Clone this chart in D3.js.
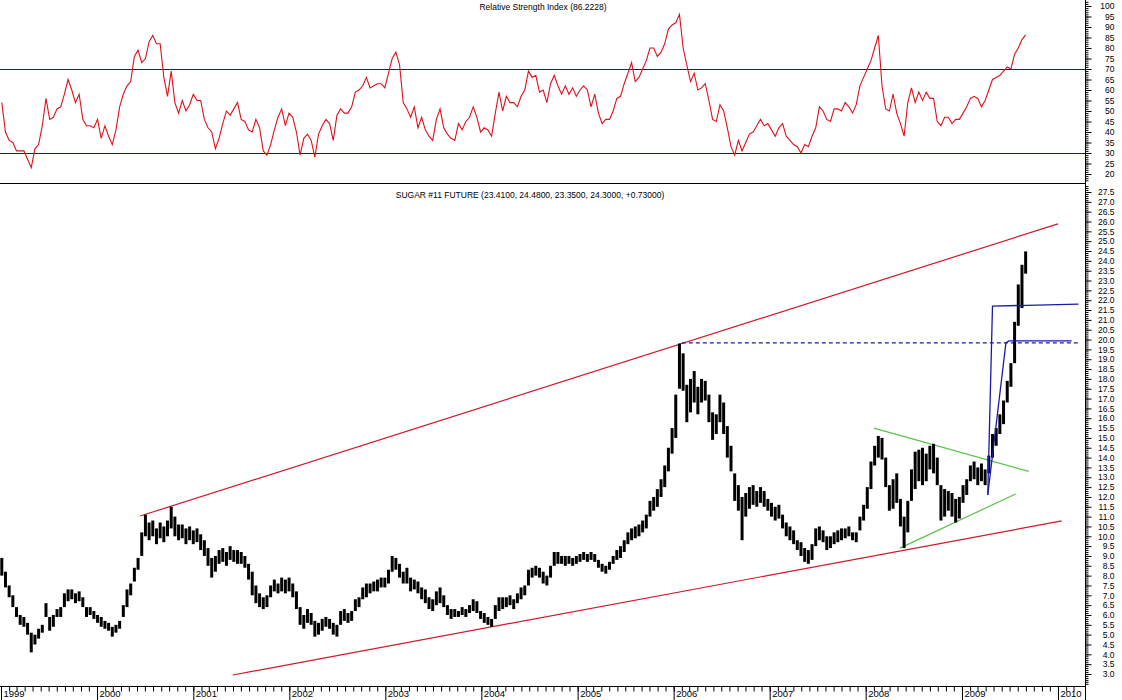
<!DOCTYPE html>
<html>
<head>
<meta charset="utf-8">
<script src="https://cdn.jsdelivr.net/npm/d3@7"></script>
<style>
  body { margin: 0; background: #fff; }
  svg text { font-family: "Liberation Sans", Arial, sans-serif; }
</style>
</head>
<body>
<div id="chart"></div>
<script>
//// DATA ////

// one bar every 14 days starting here
var startDate = "1999-01-04";
var stepDays = 14;

var priceLow = [8.0,7.4,6.9,6.4,5.9,5.5,5.4,5.0,4.1,4.5,4.8,5.1,5.9,5.2,5.4,5.9,5.9,6.4,6.7,6.8,6.6,6.7,6.4,5.9,6.0,5.8,
  5.6,5.4,5.3,5.2,4.9,5.1,5.3,5.9,6.4,7.0,7.7,8.3,9.0,10.0,9.8,10.0,9.6,9.9,9.7,10.0,10.4,10.0,9.8,9.9,9.6,9.8,
  9.6,9.7,9.3,9.0,8.5,7.9,8.2,8.6,8.7,8.5,8.8,8.7,8.6,8.6,8.4,7.8,7.0,6.6,6.4,6.3,6.4,6.9,7.2,7.1,7.2,7.1,
  7.2,6.9,6.3,5.5,5.3,5.6,5.5,4.9,5.0,5.2,5.4,5.3,5.0,4.9,5.5,5.7,5.6,5.7,6.2,6.4,6.8,6.9,7.1,7.2,7.2,7.4,
  7.4,7.6,8.2,8.3,7.9,7.6,7.6,7.2,7.3,7.1,6.8,6.6,6.3,6.2,6.5,6.6,6.4,6.0,5.8,5.9,5.9,6.0,5.9,6.1,6.2,6.1,
  5.8,5.6,5.5,5.4,5.8,6.2,6.3,6.4,6.5,6.3,6.6,6.8,7.0,7.5,7.9,8.0,7.9,7.6,7.5,7.9,8.5,8.6,8.6,8.5,8.6,8.5,
  8.6,8.7,8.8,8.7,8.8,8.7,8.4,8.2,8.1,8.3,8.6,8.8,8.9,9.2,9.6,9.8,9.9,10.0,10.2,10.4,11.0,11.3,11.5,12.0,12.5,13.3,
  14.2,15.0,17.5,17.4,15.8,16.3,16.8,16.2,16.8,16.9,15.8,14.9,15.2,15.8,15.2,14.0,13.3,11.8,11.3,9.8,11.0,11.4,11.6,11.5,11.7,11.5,
  11.3,11.0,10.8,10.9,10.4,10.0,9.8,9.6,9.3,9.0,8.7,8.6,8.8,9.5,9.8,9.7,9.3,9.4,9.6,9.7,9.8,9.9,10.0,9.8,9.7,10.3,
  10.8,11.4,12.4,13.6,14.0,13.9,12.5,11.3,11.4,11.7,10.5,9.4,10.2,11.8,12.4,12.8,12.6,12.8,13.4,13.2,12.6,10.8,11.0,11.3,11.0,10.7,
  10.9,11.7,12.1,12.8,12.9,12.6,12.8,12.6,13.2,14.0,14.6,15.2,15.7,16.8,17.6,18.8,20.7,21.6,23.35];

var priceHigh = [8.9,8.2,7.5,7.0,6.4,6.0,5.9,5.6,5.1,5.0,5.3,5.5,6.6,5.9,6.0,6.3,6.4,7.1,7.3,7.3,7.1,7.2,6.9,6.4,6.4,6.2,
  6.0,5.9,5.7,5.6,5.4,5.5,5.7,6.5,7.3,7.6,8.4,8.9,10.2,11.1,10.7,10.8,10.4,10.7,10.5,10.8,11.5,11.0,10.6,10.6,10.4,10.5,
  10.3,10.4,10.1,9.8,9.4,8.9,9.0,9.3,9.4,9.2,9.5,9.3,9.3,9.2,9.0,8.6,8.2,7.5,7.1,6.9,7.0,7.5,7.8,7.6,7.9,7.8,
  7.9,7.6,7.2,6.4,6.0,6.3,6.1,5.7,5.6,5.8,5.9,5.8,5.6,5.5,6.2,6.3,6.1,6.2,6.8,6.9,7.4,7.6,7.6,7.7,7.8,7.9,
  7.9,8.3,9.0,8.9,8.6,8.2,8.4,7.9,7.8,7.7,7.4,7.3,6.9,6.8,7.2,7.4,7.0,6.5,6.3,6.3,6.2,6.4,6.3,6.5,6.8,6.7,
  6.2,6.1,5.9,5.8,6.5,6.9,6.9,6.9,7.0,6.8,7.1,7.4,7.5,8.3,8.4,8.5,8.4,8.2,8.0,8.5,9.2,9.2,9.0,9.0,9.0,8.9,
  9.0,9.1,9.2,9.1,9.2,9.1,8.8,8.6,8.5,8.7,9.0,9.3,9.5,9.8,10.2,10.4,10.5,10.6,10.8,11.1,11.8,12.0,12.4,12.9,13.6,14.5,
  15.5,17.2,19.8,19.3,17.7,18.0,18.4,17.6,18.0,17.9,17.2,16.3,16.2,17.2,16.8,15.6,14.6,13.2,12.6,12.0,12.2,12.5,12.6,12.3,12.5,12.3,
  11.9,11.7,11.5,11.6,11.1,10.7,10.5,10.3,9.8,9.7,9.4,9.3,9.6,10.4,10.5,10.3,10.0,10.0,10.2,10.3,10.4,10.4,10.5,10.2,10.2,11.0,
  11.6,12.5,13.8,14.6,15.1,15.0,14.0,12.6,12.9,13.2,11.9,11.0,11.8,13.4,14.3,14.4,14.5,14.2,14.6,14.7,14.0,12.6,12.4,12.3,12.2,11.9,
  12.0,12.6,12.9,13.6,13.8,13.5,13.7,13.4,14.1,15.2,15.5,16.2,16.9,17.9,18.8,20.9,22.8,23.8,24.48];

var rsiValues = [54,40,36,35,31,31,31,27,23,32,34,43,56,46,47,51,52,58,65,60,54,58,46,43,43,42,
  46,37,43,38,34,41,52,58,62,64,76,79,73,75,83,86,82,82,66,57,69,54,49,55,50,53,
  58,55,55,46,42,40,32,37,44,50,48,51,54,46,45,41,40,46,42,31,29,34,41,47,51,43,
  49,47,40,29,37,39,36,28,39,43,46,44,36,48,51,49,49,52,59,60,62,66,61,62,63,63,
  61,68,75,78,72,54,51,47,52,42,47,41,38,36,46,51,42,39,37,36,44,41,45,47,52,47,
  40,42,41,38,49,59,50,57,54,54,52,57,60,69,66,67,59,60,54,63,67,62,58,62,58,61,
  57,60,62,60,52,58,49,44,46,46,50,56,57,63,68,73,64,66,70,74,80,80,76,78,82,89,
  91,92,96,80,72,64,68,60,61,63,55,46,45,53,50,42,33,29,36,31,35,39,40,43,46,43,
  44,41,38,42,44,38,36,34,33,30,34,33,38,42,52,50,46,45,51,51,50,54,52,49,53,62,
  66,70,74,80,86,62,51,50,58,49,44,38,54,61,54,59,55,59,56,56,45,43,47,47,44,46,
  46,49,52,56,57,56,52,55,60,65,66,67,69,71,70,77,80,84,86.2228];

var rsiTickLabels = [20,25,30,35,40,45,50,55,60,65,70,75,80,85,90,95,100];
var rsiBands = [70, 30];
var priceTickLabels = ["3.0","3.5","4.0","4.5","5.0","5.5","6.0","6.5","7.0","7.5","8.0","8.5","9.0","9.5","10.0",
  "10.5","11.0","11.5","12.0","12.5","13.0","13.5","14.0","14.5","15.0","15.5","16.0","16.5","17.0","17.5","18.0",
  "18.5","19.0","19.5","20.0","20.5","21.0","21.5","22.0","22.5","23.0","23.5","24.0","24.5","25.0","25.5","26.0",
  "26.5","27.0","27.5"];
var yearLabels = ["1999","2000","2001","2002","2003","2004","2005","2006","2007","2008","2009","2010"];

// drawn studies: [date, price] points
var redTrendLines = [
  [["2000-06-13", 11.03], ["2010-01-01", 25.88]],
  [["2001-05-31", 2.95], ["2010-01-15", 10.78]]
];
var greenTrendLines = [
  [["2008-02-01", 15.5], ["2009-09-12", 13.3]],
  [["2008-05-10", 9.4], ["2009-07-24", 12.15]]
];
var blueTrendLines = [
  [["2009-04-09", 12.1], ["2009-04-27", 21.7], ["2010-03-20", 21.8]],
  [["2009-04-09", 12.1], ["2009-06-17", 19.83], ["2009-06-28", 19.93], ["2010-02-22", 19.93]]
];
var blueDashedLine = [["2006-02-01", 19.83], ["2010-03-20", 19.83]];

var rsiTitle = "Relative Strength Index (86.2228)";
var priceTitle = "SUGAR #11 FUTURE (23.4100, 24.4800, 23.3500, 24.3000, +0.73000)";

//// SET UP ////

var svgWidth = 1122;
var svgHeight = 700;
var plotRight = 1085;
var axisY = 686;

var svg = d3.select("#chart")
  .append("svg")
  .attr("width", svgWidth)
  .attr("height", svgHeight);

svg.append("rect")
  .attr("width", svgWidth)
  .attr("height", svgHeight)
  .attr("fill", "#fff");

var parseDate = d3.timeParse("%Y-%m-%d");
var start = parseDate(startDate);
var dates = priceLow.map((d, i) => d3.timeDay.offset(start, i * stepDays));

var xScale = d3.scaleTime()
  .domain([parseDate("1999-01-01"), parseDate("2010-01-01")])
  .range([1, 1058]);

var rsiScale = d3.scaleLinear().domain([20, 100]).range([174, 6]);
var priceScale = d3.scaleLinear().domain([3, 27.5]).range([674, 192]);

// clip regions
var defs = svg.append("defs");
defs.append("clipPath").attr("id", "clipRsi")
  .append("rect").attr("x", 0).attr("y", 0).attr("width", plotRight).attr("height", 183);
defs.append("clipPath").attr("id", "clipPrice")
  .append("rect").attr("x", 0).attr("y", 184).attr("width", plotRight).attr("height", axisY - 184);

//// RSI PANEL ////

var rsiGroup = svg.append("g").attr("clip-path", "url(#clipRsi)");

rsiGroup.selectAll(".band")
  .data(rsiBands)
  .enter()
  .append("line")
  .attr("x1", 0)
  .attr("x2", plotRight)
  .attr("y1", d => Math.round(rsiScale(d)) + 0.5)
  .attr("y2", d => Math.round(rsiScale(d)) + 0.5)
  .attr("stroke", "#1414b4")
  .attr("stroke-width", 1.2);

var rsiLine = d3.line()
  .x((d, i) => xScale(dates[i]))
  .y(d => rsiScale(d));

rsiGroup.append("path")
  .datum(rsiValues)
  .attr("d", rsiLine)
  .attr("fill", "none")
  .attr("stroke", "#e0101c")
  .attr("stroke-width", 1.1);

svg.append("text")
  .attr("x", 543)
  .attr("y", 10)
  .attr("text-anchor", "middle")
  .attr("font-size", "8.5px")
  .text(rsiTitle);

// separator
svg.append("line")
  .attr("x1", 0).attr("x2", plotRight)
  .attr("y1", 183.5).attr("y2", 183.5)
  .attr("stroke", "#000");

//// PRICE PANEL ////

var priceGroup = svg.append("g").attr("clip-path", "url(#clipPrice)");

var trendLine = d3.line()
  .x(d => xScale(parseDate(d[0])))
  .y(d => priceScale(d[1]));

priceGroup.selectAll(".red")
  .data(redTrendLines)
  .enter()
  .append("path")
  .attr("d", trendLine)
  .attr("fill", "none")
  .attr("stroke", "#d0182a")
  .attr("stroke-width", 1.2);

priceGroup.selectAll(".green")
  .data(greenTrendLines)
  .enter()
  .append("path")
  .attr("d", trendLine)
  .attr("fill", "none")
  .attr("stroke", "#5cc04c")
  .attr("stroke-width", 1.2);

priceGroup.append("path")
  .datum(blueDashedLine)
  .attr("d", trendLine)
  .attr("fill", "none")
  .attr("stroke", "#1a1aa8")
  .attr("stroke-width", 1.1)
  .attr("stroke-dasharray", "4,3");

// price bars (high-low)
priceGroup.selectAll(".bar")
  .data(priceLow)
  .enter()
  .append("line")
  .attr("x1", (d, i) => xScale(dates[i]))
  .attr("x2", (d, i) => xScale(dates[i]))
  .attr("y1", d => priceScale(d))
  .attr("y2", (d, i) => priceScale(priceHigh[i]))
  .attr("stroke", "#000")
  .attr("stroke-width", 3);

priceGroup.selectAll(".blue")
  .data(blueTrendLines)
  .enter()
  .append("path")
  .attr("d", trendLine)
  .attr("fill", "none")
  .attr("stroke", "#1a1aa8")
  .attr("stroke-width", 1.3);

svg.append("text")
  .attr("x", 530)
  .attr("y", 198)
  .attr("text-anchor", "middle")
  .attr("font-size", "8.5px")
  .text(priceTitle);

//// AXES ////

// right axis line
svg.append("line")
  .attr("x1", plotRight + 0.5).attr("x2", plotRight + 0.5)
  .attr("y1", 0).attr("y2", svgHeight)
  .attr("stroke", "#000");

function rightAxis(scale, minorTicks, majorTicks, labels) {
  var g = svg.append("g").attr("transform", `translate(${plotRight + 0.5},0)`);
  g.append("g")
    .call(d3.axisRight(scale).tickValues(minorTicks).tickSize(3).tickFormat(""))
    .call(a => a.select(".domain").remove());
  var major = g.append("g")
    .call(d3.axisRight(scale).tickValues(majorTicks).tickSize(6).tickFormat((d, i) => labels[i]))
    .call(a => a.select(".domain").remove());
  major.selectAll("text")
    .attr("x", 29)
    .attr("text-anchor", "end")
    .attr("font-size", "8.5px")
    .attr("font-family", "Liberation Sans, Arial, sans-serif");
}

rightAxis(rsiScale, d3.range(17, 103, 1), rsiTickLabels, rsiTickLabels);
rightAxis(priceScale, d3.range(25, 281, 1).map(d => d / 10).filter(d => priceScale(d) > 185 && priceScale(d) < 684),
  priceTickLabels.map(Number), priceTickLabels);

// bottom axis
svg.append("line")
  .attr("x1", 0).attr("x2", plotRight)
  .attr("y1", axisY + 0.5).attr("y2", axisY + 0.5)
  .attr("stroke", "#000");

var months = d3.timeMonth.range(parseDate("1999-01-01"), parseDate("2010-04-01"))
  .filter(d => xScale(d) < plotRight);
var years = yearLabels.map(y => parseDate(y + "-01-01"));

var bottomGroup = svg.append("g").attr("transform", `translate(0,${axisY + 0.5})`);
bottomGroup.append("g")
  .call(d3.axisBottom(xScale).tickValues(months).tickSize(5).tickFormat(""))
  .call(a => a.select(".domain").remove());
var yearAxis = bottomGroup.append("g")
  .call(d3.axisBottom(xScale).tickValues(years).tickSize(14).tickFormat((d, i) => yearLabels[i]))
  .call(a => a.select(".domain").remove());
yearAxis.selectAll("text")
  .attr("x", 2)
  .attr("y", 4)
  .attr("dy", "0.71em")
  .attr("text-anchor", "start")
  .attr("font-size", "9.5px")
  .attr("font-family", "Liberation Sans, Arial, sans-serif");

</script>
</body>
</html>
